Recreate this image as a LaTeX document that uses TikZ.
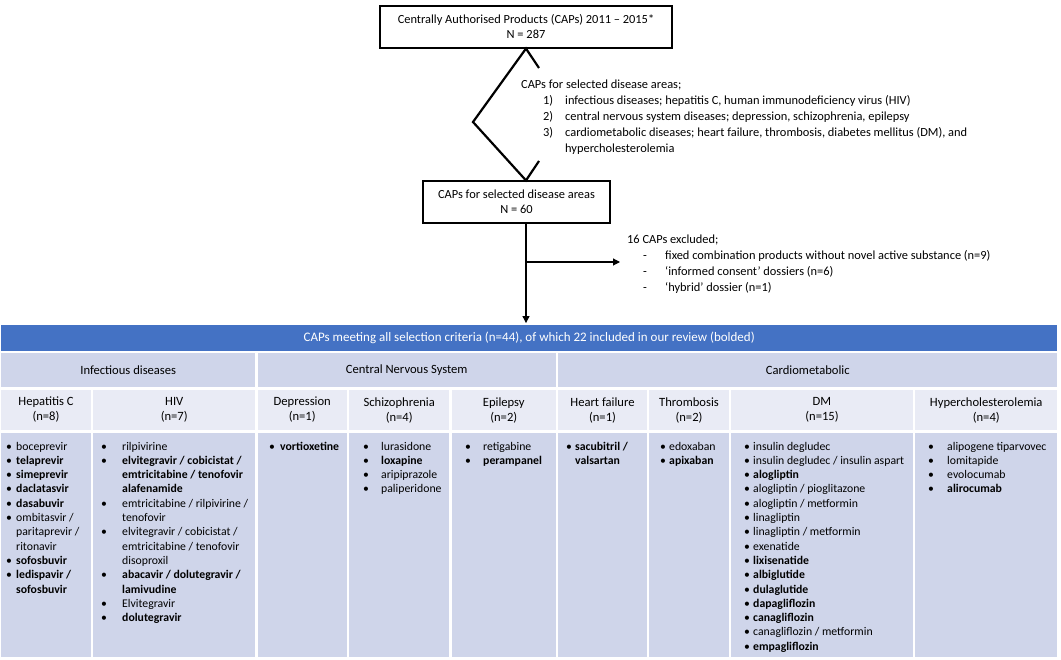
\documentclass[tikz,border=0pt]{standalone}
\usepackage{fontspec}
\setmainfont{Carlito}
\usetikzlibrary{arrows.meta}
\definecolor{hdrblue}{HTML}{4472C4}
\definecolor{rowdark}{HTML}{CFD5EA}
\definecolor{rowlight}{HTML}{E9EBF5}
\tikzset{
 flowbox/.style={draw=black, line width=1.1pt, fill=white, inner sep=0pt, align=center, font=\fontsize{12.4}{15}\selectfont},
 cellbox/.style={inner sep=0pt, align=center, font=\fontsize{12.6}{15}\selectfont},
 lstnode/.style={inner sep=0pt, anchor=base west, font=\fontsize{11.75}{14.3}\selectfont},
 plaintext/.style={inner sep=0pt, anchor=base west, font=\fontsize{12.4}{15.8}\selectfont},
 conn/.style={line width=1.1pt, -{Triangle[length=7pt,width=7pt]}},
 bracket/.style={line width=2.2pt, line join=miter},
}
\newcommand\mkcell[7]{\node[cellbox, fill=#6, minimum width={(#4-#2-2.5)*1pt}, minimum height={(#5-#3-2.5)*1pt}] (#1) at ({(#2+#4)/2},{(#3+#5)/2}) {#7};}
\newcommand\lst[2]{\begin{tabular}[t]{@{}p{#1pt}@{}l@{}}#2\end{tabular}}
\newcommand\B{\textbullet}
\begin{document}
\begin{tikzpicture}[x=1pt,y=-1pt]
\useasboundingbox (0,0) rectangle (1061,660);

% flowchart
\node[flowbox, minimum width=292pt, minimum height=42pt] (top) at (526,27) {Centrally Authorised Products (CAPs) 2011 – 2015*\\N = 287};
\node[flowbox, minimum width=187pt, minimum height=42pt] (mid) at (516.5,202) {CAPs for selected disease areas\\N = 60};

\coordinate (dL) at (473,122);
\coordinate (sT) at (539,68);
\coordinate (sB) at (539,161);
\draw[bracket] (sT) -- (top.south) -- (dL) -- (mid.north -| top.south) -- (sB);

\node[plaintext] (areas) at (521,89) {\begin{tabular}[t]{@{}p{22pt}@{}p{22pt}@{}l@{}}
\multicolumn{3}{@{}l@{}}{CAPs for selected disease areas;}\\
 & 1) & infectious diseases; hepatitis C, human immunodeficiency virus (HIV)\\
 & 2) & central nervous system diseases; depression, schizophrenia, epilepsy\\
 & 3) & cardiometabolic diseases; heart failure, thrombosis, diabetes mellitus (DM), and\\
 & & hypercholesterolemia
\end{tabular}};

\node[plaintext] (excl) at (627,244) {\begin{tabular}[t]{@{}p{16pt}@{}p{22pt}@{}l@{}}
\multicolumn{3}{@{}l@{}}{16 CAPs excluded;}\\
 & - & fixed combination products without novel active substance (n=9)\\
 & - & ‘informed consent’ dossiers (n=6)\\
 & - & ‘hybrid’ dossier (n=1)
\end{tabular}};

% table
\mkcell{hdr}{0}{324}{1058.5}{352}{hdrblue}{\fontsize{13}{15}\selectfont\color{white}CAPs meeting all selection criteria (n=44), of which 22 included in our review (bolded)}

\mkcell{catInf}{0}{351.5}{256.5}{388.5}{rowdark}{Infectious diseases}
\mkcell{catCNS}{256.5}{351.5}{557}{388.5}{rowdark}{Central Nervous System}
\mkcell{catCar}{557}{351.5}{1058.5}{388.5}{rowdark}{Cardiometabolic}

\mkcell{hHep}{0}{388.5}{92}{431.5}{rowlight}{Hepatitis C\\(n=8)}
\mkcell{hHIV}{92}{388.5}{256.5}{431.5}{rowlight}{HIV\\(n=7)}
\mkcell{hDep}{256.5}{388.5}{348}{431.5}{rowlight}{Depression\\(n=1)}
\mkcell{hSch}{348}{388.5}{450.5}{431.5}{rowlight}{Schizophrenia\\(n=4)}
\mkcell{hEpi}{450.5}{388.5}{557}{431.5}{rowlight}{Epilepsy\\(n=2)}
\mkcell{hHF}{557}{388.5}{648}{431.5}{rowlight}{Heart failure\\(n=1)}
\mkcell{hThr}{648}{388.5}{730}{431.5}{rowlight}{Thrombosis\\(n=2)}
\mkcell{hDM}{730}{388.5}{914}{431.5}{rowlight}{DM\\(n=15)}
\mkcell{hHyp}{914}{388.5}{1058.5}{431.5}{rowlight}{Hypercholesterolemia\\(n=4)}

\mkcell{cHep}{0}{431.5}{92}{658.5}{rowdark}{}
\mkcell{cHIV}{92}{431.5}{256.5}{658.5}{rowdark}{}
\mkcell{cDep}{256.5}{431.5}{348}{658.5}{rowdark}{}
\mkcell{cSch}{348}{431.5}{450.5}{658.5}{rowdark}{}
\mkcell{cEpi}{450.5}{431.5}{557}{658.5}{rowdark}{}
\mkcell{cHF}{557}{431.5}{648}{658.5}{rowdark}{}
\mkcell{cThr}{648}{431.5}{730}{658.5}{rowdark}{}
\mkcell{cDM}{730}{431.5}{914}{658.5}{rowdark}{}
\mkcell{cHyp}{914}{431.5}{1058.5}{658.5}{rowdark}{}

% connectors
\draw[conn, shorten >=2pt] (mid.south -| top.south) -- (hdr.north -| top.south);
\coordinate (br) at (526,262);
\coordinate (exc) at (620,262);
\draw[conn] (br) -- (exc);

% lists
\node[lstnode] (lHep) at (6,450) {\lst{10}{\B & boceprevir\\ \B & \textbf{telaprevir}\\ \B & \textbf{simeprevir}\\ \B & \textbf{daclatasvir}\\ \B & \textbf{dasabuvir}\\ \B & ombitasvir /\\ & paritaprevir /\\ & ritonavir\\ \B & \textbf{sofosbuvir}\\ \B & \textbf{ledispavir /}\\ & \textbf{sofosbuvir}}};

\node[lstnode] (lHIV) at (101,450) {\lst{21}{\B & rilpivirine\\ \B & \textbf{elvitegravir / cobicistat /}\\ & \textbf{emtricitabine / tenofovir}\\ & \textbf{alafenamide}\\ \B & emtricitabine / rilpivirine /\\ & tenofovir\\ \B & elvitegravir / cobicistat /\\ & emtricitabine / tenofovir\\ & disoproxil\\ \B & \textbf{abacavir / dolutegravir /}\\ & \textbf{lamivudine}\\ \B & Elvitegravir\\ \B & \textbf{dolutegravir}}};

\node[lstnode] (lDep) at (269,450) {\lst{11}{\B & \textbf{vortioxetine}}};

\node[lstnode] (lSch) at (363,450) {\lst{18}{\B & lurasidone\\ \B & \textbf{loxapine}\\ \B & aripiprazole\\ \B & paliperidone}};

\node[lstnode] (lEpi) at (465,450) {\lst{18}{\B & retigabine\\ \B & \textbf{perampanel}}};

\node[lstnode] (lHF) at (566,450) {\lst{9}{\B & \textbf{sacubitril /}\\ & \textbf{valsartan}}};

\node[lstnode] (lThr) at (660,450) {\lst{9}{\B & edoxaban\\ \B & \textbf{apixaban}}};

\node[lstnode] (lDM) at (744,450) {\lst{9}{\B & insulin degludec\\ \B & insulin degludec / insulin aspart\\ \B & \textbf{alogliptin}\\ \B & alogliptin / pioglitazone\\ \B & alogliptin / metformin\\ \B & linagliptin\\ \B & linagliptin / metformin\\ \B & exenatide\\ \B & \textbf{lixisenatide}\\ \B & \textbf{albiglutide}\\ \B & \textbf{dulaglutide}\\ \B & \textbf{dapagliflozin}\\ \B & \textbf{canagliflozin}\\ \B & canagliflozin / metformin\\ \B & \textbf{empagliflozin}}};

\node[lstnode] (lHyp) at (928,450) {\lst{19}{\B & alipogene tiparvovec\\ \B & lomitapide\\ \B & evolocumab\\ \B & \textbf{alirocumab}}};
\end{tikzpicture}
\end{document}
